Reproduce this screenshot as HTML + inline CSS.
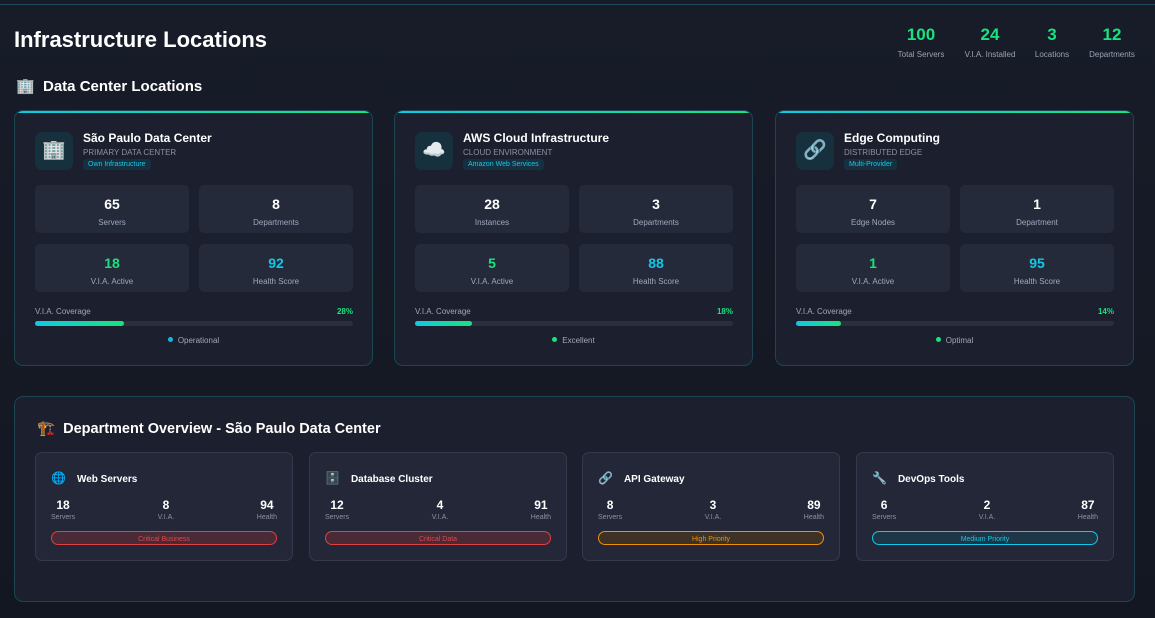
<!DOCTYPE html>
<html><head><meta charset="utf-8"><style>
*{box-sizing:border-box;margin:0;padding:0}
body{width:1155px;height:618px;overflow:hidden;background:linear-gradient(180deg,#171c28,#131722);font-family:"Liberation Sans","Noto Sans CJK JP",sans-serif;color:#fff;position:relative}
.topline{position:absolute;left:0;top:0;width:1155px;height:5px;background:#161b27;border-bottom:1px solid #1f4a5a}
.h1{position:absolute;left:14px;top:27px;font-size:22px;font-weight:bold}
.ts{position:absolute;top:26px;text-align:center;line-height:1}
.ts b{display:block;color:#19e27e;font-size:17px;margin-bottom:2px}
.ts span{font-size:8px;color:#9aa3b5}
.h2{position:absolute;left:16px;top:77px;font-size:15px;font-weight:bold}
.loc{position:absolute;top:110px;width:359px;height:256px;border:1px solid #1d4552;border-radius:9px;background:#1b1f2e;overflow:hidden}
.loc:before{content:"";position:absolute;left:0;top:0;right:0;height:2px;background:linear-gradient(90deg,#12c8e0,#19e27e)}
.ic{position:absolute;left:20px;top:21px;width:38px;height:38px;border-radius:7px;background:#16303d;font-size:19px;text-align:center;line-height:38px}
.tt{position:absolute;left:68px;top:20px;font-size:12px;font-weight:bold}
.st{position:absolute;left:68px;top:37px;font-size:8px;color:#8a93a6}
.tag{position:absolute;left:68px;top:48px;font-size:7px;color:#19c8e0;background:#153040;padding:2px 5px;border-radius:3px}
.box{position:absolute;width:154px;height:48px;background:#252a3b;border-radius:5px;text-align:center}
.box b{display:block;margin-top:11px;font-size:14px}
.box span{font-size:8px;color:#a0a8b8}
.cl{position:absolute;left:20px;top:196px;font-size:8px;color:#a0a8b8}
.cp{position:absolute;right:19px;top:196px;font-size:8px;color:#19e27e;font-weight:bold}
.bar{position:absolute;left:20px;right:19px;top:210px;height:5px;border-radius:3px;background:#2a2f40}
.bar i{display:block;height:5px;border-radius:3px;background:linear-gradient(90deg,#12c8e0,#19e27e)}
.sts{position:absolute;left:0;right:0;top:225px;text-align:center;font-size:8px;color:#a0a8b8}
.sts i{display:inline-block;width:5px;height:5px;border-radius:50%;margin-right:5px;vertical-align:1px}
.dept{position:absolute;left:14px;top:396px;width:1121px;height:206px;border:1px solid #1d4552;border-radius:9px;background:#1b1f2e}
.dt{position:absolute;left:22px;top:23px;font-size:14.5px;font-weight:bold}
.dc{position:absolute;top:55px;width:258px;height:109px;border:1px solid #343a4c;border-radius:7px;background:#232738}
.dn{position:absolute;left:15px;top:18px;font-size:10px;font-weight:bold}
.dn em{font-style:normal;font-size:12px;margin-right:11px}
.dv{position:absolute;top:45px;font-size:12px;font-weight:bold;text-align:center}
.dv span{display:block;font-size:7px;font-weight:normal;color:#8a93a6;margin-top:2px}
.pill{position:absolute;left:15px;right:15px;top:78px;height:14px;border-radius:8px;font-size:7px;text-align:center;line-height:13px;border:1px solid;padding-top:1px}
</style></head><body>
<div class="topline"></div>
<div class="h1">Infrastructure Locations</div>
<div class="ts" style="left:897px;width:48px"><b>100</b><span>Total Servers</span></div>
<div class="ts" style="left:962px;width:56px"><b>24</b><span>V.I.A. Installed</span></div>
<div class="ts" style="left:1032px;width:40px"><b>3</b><span>Locations</span></div>
<div class="ts" style="left:1088px;width:48px"><b>12</b><span>Departments</span></div>
<div class="h2">🏢&nbsp; Data Center Locations</div>

<div class="loc" style="left:14px">
<div class="ic">🏢</div><div class="tt">São Paulo Data Center</div><div class="st">PRIMARY DATA CENTER</div><div class="tag">Own Infrastructure</div>
<div class="box" style="left:20px;top:74px"><b>65</b><span>Servers</span></div>
<div class="box" style="left:184px;top:74px"><b>8</b><span>Departments</span></div>
<div class="box" style="left:20px;top:133px"><b style="color:#19e27e">18</b><span>V.I.A. Active</span></div>
<div class="box" style="left:184px;top:133px"><b style="color:#12c8e8">92</b><span>Health Score</span></div>
<div class="cl">V.I.A. Coverage</div><div class="cp">28%</div><div class="bar"><i style="width:28%"></i></div>
<div class="sts"><i style="background:#12b8e0"></i>Operational</div>
</div>
<div class="loc" style="left:394px">
<div class="ic">☁️</div><div class="tt">AWS Cloud Infrastructure</div><div class="st">CLOUD ENVIRONMENT</div><div class="tag">Amazon Web Services</div>
<div class="box" style="left:20px;top:74px"><b>28</b><span>Instances</span></div>
<div class="box" style="left:184px;top:74px"><b>3</b><span>Departments</span></div>
<div class="box" style="left:20px;top:133px"><b style="color:#19e27e">5</b><span>V.I.A. Active</span></div>
<div class="box" style="left:184px;top:133px"><b style="color:#12c8e8">88</b><span>Health Score</span></div>
<div class="cl">V.I.A. Coverage</div><div class="cp">18%</div><div class="bar"><i style="width:18%"></i></div>
<div class="sts"><i style="background:#19e27e"></i>Excellent</div>
</div>
<div class="loc" style="left:775px">
<div class="ic">🔗</div><div class="tt">Edge Computing</div><div class="st">DISTRIBUTED EDGE</div><div class="tag">Multi-Provider</div>
<div class="box" style="left:20px;top:74px"><b>7</b><span>Edge Nodes</span></div>
<div class="box" style="left:184px;top:74px"><b>1</b><span>Department</span></div>
<div class="box" style="left:20px;top:133px"><b style="color:#19e27e">1</b><span>V.I.A. Active</span></div>
<div class="box" style="left:184px;top:133px"><b style="color:#12c8e8">95</b><span>Health Score</span></div>
<div class="cl">V.I.A. Coverage</div><div class="cp">14%</div><div class="bar"><i style="width:14%"></i></div>
<div class="sts"><i style="background:#19e27e"></i>Optimal</div>
</div>

<div class="dept">
<div class="dt">🏗️&nbsp; Department Overview - São Paulo Data Center</div>
<div class="dc" style="left:20px"><div class="dn"><em>🌐</em>Web Servers</div>
<div class="dv" style="left:15px">18<span>Servers</span></div><div class="dv" style="left:112px;width:36px">8<span>V.I.A.</span></div><div class="dv" style="right:15px">94<span>Health</span></div>
<div class="pill" style="color:#e04848;border-color:#e04040;background:#4a2a36">Critical Business</div></div>
<div class="dc" style="left:294px"><div class="dn"><em>🗄️</em>Database Cluster</div>
<div class="dv" style="left:15px">12<span>Servers</span></div><div class="dv" style="left:112px;width:36px">4<span>V.I.A.</span></div><div class="dv" style="right:15px">91<span>Health</span></div>
<div class="pill" style="color:#e04848;border-color:#e04040;background:#4a2a36">Critical Data</div></div>
<div class="dc" style="left:567px"><div class="dn"><em>🔗</em>API Gateway</div>
<div class="dv" style="left:15px">8<span>Servers</span></div><div class="dv" style="left:112px;width:36px">3<span>V.I.A.</span></div><div class="dv" style="right:15px">89<span>Health</span></div>
<div class="pill" style="color:#f0900a;border-color:#f0900a;background:#3e3226">High Priority</div></div>
<div class="dc" style="left:841px"><div class="dn"><em>🔧</em>DevOps Tools</div>
<div class="dv" style="left:15px">6<span>Servers</span></div><div class="dv" style="left:112px;width:36px">2<span>V.I.A.</span></div><div class="dv" style="right:15px">87<span>Health</span></div>
<div class="pill" style="color:#12c8e8;border-color:#12c8e8;background:#1e3645">Medium Priority</div></div>
</div>
</body></html>
